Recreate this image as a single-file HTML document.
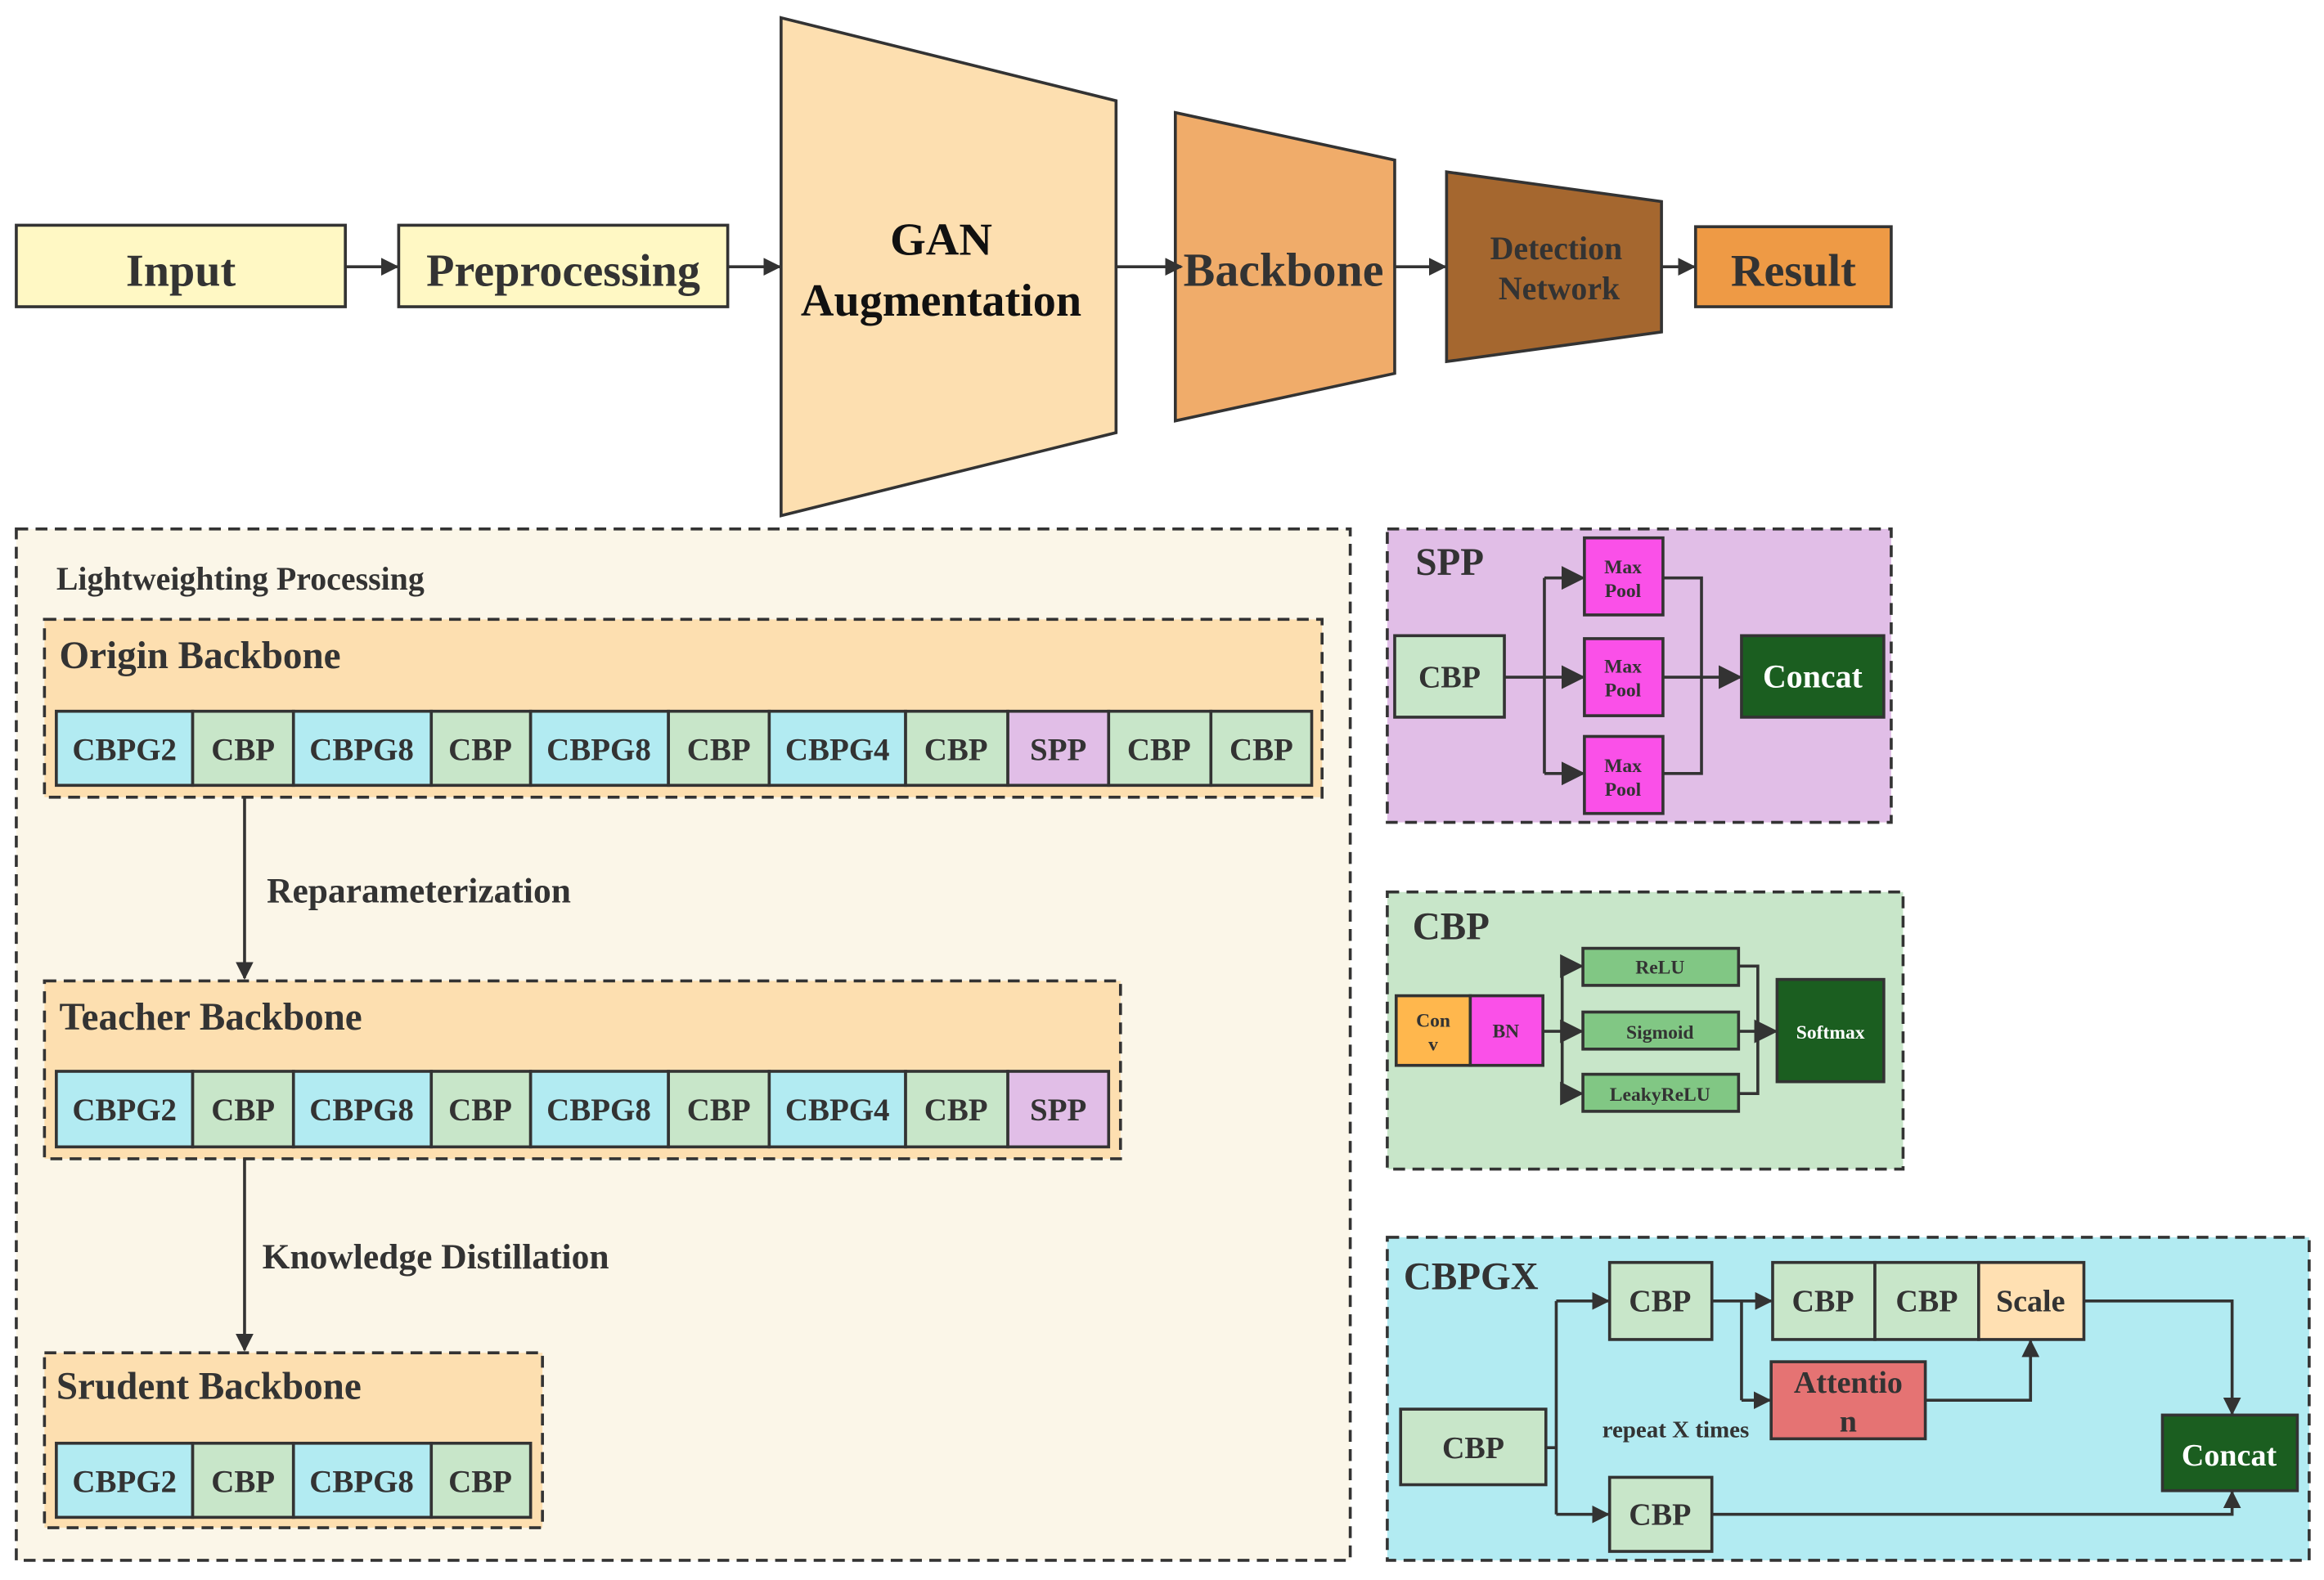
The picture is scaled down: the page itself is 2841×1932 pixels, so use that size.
<!DOCTYPE html>
<html><head><meta charset="utf-8"><style>
html,body{margin:0;padding:0;background:#fff}
svg{display:block}
text{font-family:"Liberation Serif",serif;font-weight:bold;fill:#333}
</style></head><body>
<svg width="2841" height="1932" viewBox="0 0 1568 1066.3" preserveAspectRatio="none" xmlns="http://www.w3.org/2000/svg">
<defs>
<marker id="a" viewBox="0 0 10 10" refX="9" refY="5" markerWidth="6" markerHeight="6" orient="auto"><path d="M0,0L10,5L0,10z" fill="#333"/></marker>
<marker id="s" viewBox="0 0 10 10" refX="9" refY="5" markerWidth="8" markerHeight="8" orient="auto"><path d="M0,0L10,5L0,10z" fill="#333"/></marker>
</defs>
<g stroke="#333" stroke-width="2">
<rect x="11" y="152" width="222" height="55" fill="#FFF8C4"/>
<rect x="269" y="152" width="222" height="55" fill="#FFF8C4"/>
<polygon points="527,12 753,68 753,292 527,348" fill="#FDDFB0"/>
<polygon points="793,76 941,108 941,252 793,284" fill="#F0AC6A"/>
<polygon points="976,116 1121,136 1121,224 976,244" fill="#A5672F"/>
<rect x="1144" y="153" width="132" height="54" fill="#EE9A45"/>
<g fill="none" marker-end="url(#a)">
<line x1="233" y1="180" x2="268" y2="180"/>
<line x1="491" y1="180" x2="526" y2="180"/>
<line x1="753" y1="180" x2="797" y2="180"/>
<line x1="941" y1="180" x2="975" y2="180"/>
<line x1="1121" y1="180" x2="1143" y2="180"/>
</g>
<rect x="11" y="357" width="900" height="696" fill="#FBF6E8" stroke-dasharray="8,5"/>
<rect x="30" y="418" width="862" height="120" fill="#FDDFB0" stroke-dasharray="8,5"/>
<rect x="30" y="662" width="726" height="120" fill="#FDDFB0" stroke-dasharray="8,5"/>
<rect x="30" y="913" width="336" height="118" fill="#FDDFB0" stroke-dasharray="8,5"/>
<g fill="none" marker-end="url(#a)">
<line x1="165" y1="538" x2="165" y2="660"/>
<line x1="165" y1="782" x2="165" y2="911"/>
</g>
<rect x="936" y="357" width="340" height="198" fill="#E1BEE7" stroke-dasharray="8,5"/>
<rect x="941" y="429" width="74" height="55" fill="#C8E6C9"/>
<rect x="1069" y="363" width="53" height="52" fill="#FA50E8"/>
<rect x="1069" y="431" width="53" height="52" fill="#FA50E8"/>
<rect x="1069" y="497" width="53" height="52" fill="#FA50E8"/>
<rect x="1175" y="429" width="96" height="55" fill="#1B5E20"/>
<g fill="none">
<polyline points="1015,457 1042,457"/>
<polyline points="1042,390 1042,522"/>
<polyline points="1122,390 1148,390 1148,522 1122,522"/>
<line x1="1122" y1="457" x2="1148" y2="457"/>
</g>
<g fill="none" marker-end="url(#s)">
<line x1="1042" y1="390" x2="1068" y2="390"/>
<line x1="1042" y1="457" x2="1068" y2="457"/>
<line x1="1042" y1="522" x2="1068" y2="522"/>
<line x1="1148" y1="457" x2="1174" y2="457"/>
</g>
<rect x="936" y="602" width="348" height="187" fill="#C8E6C9" stroke-dasharray="8,5"/>
<rect x="942" y="672" width="50" height="47" fill="#FFB74D"/>
<rect x="992" y="672" width="49" height="47" fill="#FA50E8"/>
<rect x="1068" y="640" width="105" height="25" fill="#81C784"/>
<rect x="1068" y="683" width="105" height="25" fill="#81C784"/>
<rect x="1068" y="725" width="105" height="25" fill="#81C784"/>
<rect x="1199" y="661" width="72" height="69" fill="#1B5E20"/>
<g fill="none">
<line x1="1041" y1="696" x2="1054" y2="696"/>
<line x1="1054" y1="652" x2="1054" y2="738"/>
<polyline points="1173,652 1186,652 1186,738 1173,738"/>
<line x1="1173" y1="696" x2="1186" y2="696"/>
</g>
<g fill="none" marker-end="url(#s)">
<line x1="1054" y1="652" x2="1067" y2="652"/>
<line x1="1054" y1="696" x2="1067" y2="696"/>
<line x1="1054" y1="738" x2="1067" y2="738"/>
<line x1="1186" y1="696" x2="1198" y2="696"/>
</g>
<rect x="936" y="835" width="622" height="218" fill="#B2EBF2" stroke-dasharray="8,5"/>
<rect x="945" y="951" width="98" height="51" fill="#C8E6C9"/>
<rect x="1086" y="852" width="69" height="52" fill="#C8E6C9"/>
<rect x="1086" y="997" width="69" height="50" fill="#C8E6C9"/>
<rect x="1196" y="852" width="69" height="52" fill="#C8E6C9"/>
<rect x="1265" y="852" width="70" height="52" fill="#C8E6C9"/>
<rect x="1335" y="852" width="71" height="52" fill="#FFE0B2"/>
<rect x="1195" y="919" width="104" height="52" fill="#E57373"/>
<rect x="1459" y="955" width="91" height="51" fill="#1B5E20"/>
<g fill="none">
<line x1="1043" y1="977" x2="1050" y2="977"/>
<line x1="1050" y1="878" x2="1050" y2="1022"/>
<line x1="1175" y1="878" x2="1175" y2="945"/>
</g>
<g fill="none" marker-end="url(#a)">
<line x1="1050" y1="878" x2="1085" y2="878"/>
<line x1="1050" y1="1022" x2="1085" y2="1022"/>
<line x1="1155" y1="878" x2="1195" y2="878"/>
<line x1="1175" y1="945" x2="1194" y2="945"/>
<polyline points="1299,945 1370,945 1370,905"/>
<polyline points="1406,878 1506,878 1506,954"/>
<polyline points="1155,1022 1506,1022 1506,1007"/>
</g>
<rect x="38" y="480" width="92" height="50" fill="#B2EBF2"/>
<rect x="130" y="480" width="68" height="50" fill="#C8E6C9"/>
<rect x="198" y="480" width="93" height="50" fill="#B2EBF2"/>
<rect x="291" y="480" width="67" height="50" fill="#C8E6C9"/>
<rect x="358" y="480" width="93" height="50" fill="#B2EBF2"/>
<rect x="451" y="480" width="68" height="50" fill="#C8E6C9"/>
<rect x="519" y="480" width="92" height="50" fill="#B2EBF2"/>
<rect x="611" y="480" width="69" height="50" fill="#C8E6C9"/>
<rect x="680" y="480" width="68" height="50" fill="#E1BEE7"/>
<rect x="748" y="480" width="69" height="50" fill="#C8E6C9"/>
<rect x="817" y="480" width="68" height="50" fill="#C8E6C9"/>
<rect x="38" y="723" width="92" height="51" fill="#B2EBF2"/>
<rect x="130" y="723" width="68" height="51" fill="#C8E6C9"/>
<rect x="198" y="723" width="93" height="51" fill="#B2EBF2"/>
<rect x="291" y="723" width="67" height="51" fill="#C8E6C9"/>
<rect x="358" y="723" width="93" height="51" fill="#B2EBF2"/>
<rect x="451" y="723" width="68" height="51" fill="#C8E6C9"/>
<rect x="519" y="723" width="92" height="51" fill="#B2EBF2"/>
<rect x="611" y="723" width="69" height="51" fill="#C8E6C9"/>
<rect x="680" y="723" width="68" height="51" fill="#E1BEE7"/>
<rect x="38" y="974" width="92" height="50" fill="#B2EBF2"/>
<rect x="130" y="974" width="68" height="50" fill="#C8E6C9"/>
<rect x="198" y="974" width="93" height="50" fill="#B2EBF2"/>
<rect x="291" y="974" width="67" height="50" fill="#C8E6C9"/>
</g>
<g text-anchor="middle">
<text x="122" y="193" font-size="31">Input</text>
<text x="380" y="193" font-size="31">Preprocessing</text>
<text x="635" y="172" font-size="31" style="fill:#111">GAN</text>
<text x="635" y="213" font-size="31" style="fill:#111">Augmentation</text>
<text x="866" y="193" font-size="32">Backbone</text>
<text x="1050" y="175" font-size="22">Detection</text>
<text x="1052" y="202" font-size="22">Network</text>
<text x="1210" y="193" font-size="31">Result</text>
<g font-size="21.5">
<text x="84" y="513">CBPG2</text><text x="164" y="513">CBP</text><text x="244" y="513">CBPG8</text><text x="324" y="513">CBP</text><text x="404" y="513">CBPG8</text><text x="485" y="513">CBP</text><text x="565" y="513">CBPG4</text><text x="645" y="513">CBP</text><text x="714" y="513">SPP</text><text x="782" y="513">CBP</text><text x="851" y="513">CBP</text>
<text x="84" y="756">CBPG2</text><text x="164" y="756">CBP</text><text x="244" y="756">CBPG8</text><text x="324" y="756">CBP</text><text x="404" y="756">CBPG8</text><text x="485" y="756">CBP</text><text x="565" y="756">CBPG4</text><text x="645" y="756">CBP</text><text x="714" y="756">SPP</text>
<text x="84" y="1007">CBPG2</text><text x="164" y="1007">CBP</text><text x="244" y="1007">CBPG8</text><text x="324" y="1007">CBP</text>
</g>
<text x="978" y="464" font-size="21">CBP</text>
<g font-size="13"><text x="1095" y="387">Max</text><text x="1095" y="403">Pool</text><text x="1095" y="454">Max</text><text x="1095" y="470">Pool</text><text x="1095" y="521">Max</text><text x="1095" y="537">Pool</text>
<text x="967" y="693">Con</text><text x="967" y="709">v</text><text x="1016" y="700">BN</text>
<text x="1120" y="657">ReLU</text><text x="1120" y="701">Sigmoid</text><text x="1120" y="743">LeakyReLU</text>
<text x="1235" y="701" style="fill:#fff">Softmax</text></g>
<text x="1223" y="464" font-size="22" style="fill:#fff">Concat</text>
<g font-size="21">
<text x="994" y="984">CBP</text><text x="1120" y="885">CBP</text><text x="1120" y="1029">CBP</text>
<text x="1230" y="885">CBP</text><text x="1300" y="885">CBP</text><text x="1370" y="885">Scale</text>
<text x="1247" y="940">Attentio</text><text x="1247" y="966">n</text>
<text x="1504" y="989" style="fill:#fff">Concat</text>
</g>
</g>
<text x="38" y="398" font-size="22">Lightweighting Processing</text>
<text x="40" y="451" font-size="26">Origin Backbone</text>
<text x="40" y="695" font-size="26">Teacher Backbone</text>
<text x="38" y="944" font-size="26">Srudent Backbone</text>
<text x="180" y="609" font-size="24">Reparameterization</text>
<text x="177" y="856" font-size="24">Knowledge Distillation</text>
<text x="955" y="388" font-size="26">SPP</text>
<text x="953" y="634" font-size="26">CBP</text>
<text x="947" y="870" font-size="26">CBPGX</text>
<text x="1081" y="970" font-size="16">repeat X times</text>
</svg>
</body></html>
